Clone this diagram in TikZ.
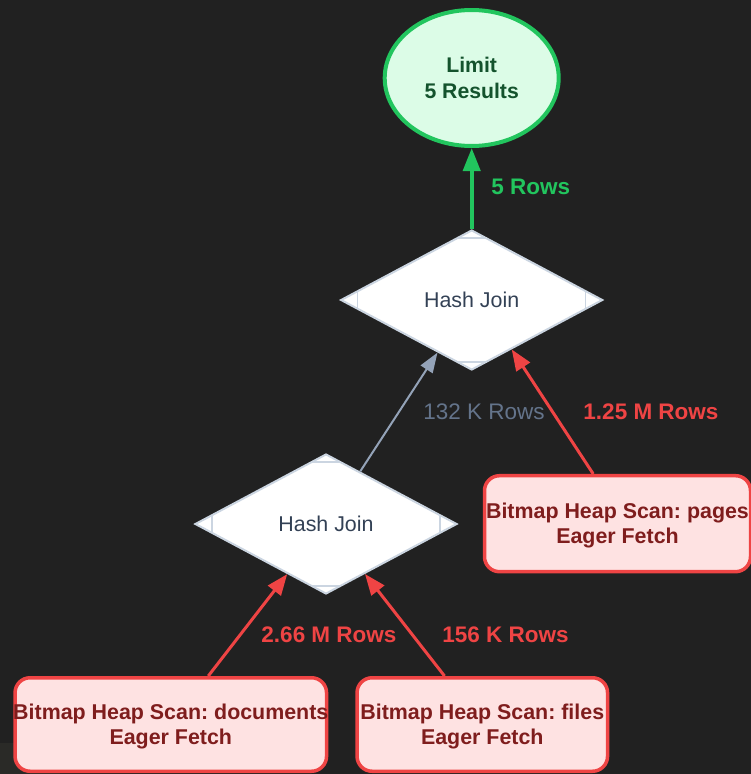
\documentclass[tikz,border=0pt]{standalone}
\usepackage{fontspec}
\setmainfont{Liberation Sans}
\usetikzlibrary{arrows.meta,shapes.geometric,calc}
\frenchspacing

\definecolor{bgdark}{HTML}{212121}
\definecolor{bgband}{HTML}{2A2A27}
\definecolor{limitgreen}{HTML}{22C55E}
\definecolor{limitfill}{HTML}{DCFCE7}
\definecolor{limittext}{HTML}{14532D}
\definecolor{joinline}{HTML}{CBD5E1}
\definecolor{jointext}{HTML}{334155}
\definecolor{joinarrow}{HTML}{94A3B8}
\definecolor{joinlabel}{HTML}{64748B}
\definecolor{scanred}{HTML}{EF4444}
\definecolor{scanfill}{HTML}{FEE2E2}
\definecolor{scantext}{HTML}{7F1D1D}

\tikzset{
  limitnode/.style={ellipse, draw=limitgreen, line width=4pt, fill=limitfill,
    text=limittext, font=\fontsize{21.2}{26.5}\selectfont\bfseries, align=center,
    minimum width=174pt, minimum height=136pt, inner sep=0pt},
  joinnode/.style={diamond, draw=joinline, line width=2pt, fill=white,
    text=jointext, font=\fontsize{21.4}{25}\selectfont, aspect=1.87,
    minimum width=262pt, minimum height=140pt, inner sep=0pt},
  joinmark/.style={draw=joinline, line width=1.5pt},
  scannode/.style={rectangle, rounded corners=15pt, draw=scanred, line width=3.5pt,
    fill=scanfill, text=scantext, font=\fontsize{21.4}{25}\selectfont\bfseries,
    align=center, inner xsep=-12pt, inner ysep=0pt, text depth=0pt},
  redflow/.style={draw=scanred, line width=3pt, -{Triangle[length=21pt,width=16pt]}},
  grayflow/.style={draw=joinarrow, line width=2pt, -{Triangle[length=20pt,width=14pt]}},
  greenflow/.style={draw=limitgreen, line width=4pt, -{Triangle[length=23pt,width=17pt]}},
  rowlabel/.style={font=\fontsize{22.5}{27}\selectfont\bfseries, inner sep=0pt},
}

% little chords near the four tips of a join diamond
\newcommand\joinmarks[1]{%
  \draw[joinmark] ($(#1.center)+(-15,-62)$) -- ++(30,0);
  \draw[joinmark] ($(#1.center)+(-15,62)$) -- ++(30,0);
  \draw[joinmark] ($(#1.center)+(-114,-9)$) -- ++(0,18);
  \draw[joinmark] ($(#1.center)+(114,-9)$) -- ++(0,18);}

\begin{document}
\begin{tikzpicture}[x=1pt,y=-1pt]
  % canvas
  \fill[bgdark] (0,0) rectangle (751,774);
  \useasboundingbox (0,0) rectangle (751,774);
  \fill[bgband] (0,743) rectangle (60,774);

  % plan nodes
  \node[limitnode] (limit) at (471.7,78) {Limit\\5 Results};
  \node[joinnode] (hj1) at (471.7,300) {Hash Join};
  \node[joinnode] (hj2) at (326,524) {Hash Join};
  \joinmarks{hj1}
  \joinmarks{hj2}
  \node[scannode, minimum width=266pt, minimum height=96pt] (pages) at (617.5,523.7)
    {Bitmap Heap Scan: pages\\Eager Fetch};
  \node[scannode, minimum width=311.5pt, minimum height=93.5pt] (docs) at (170.8,724.5)
    {Bitmap Heap Scan: documents\\Eager Fetch};
  \node[scannode, minimum width=250.5pt, minimum height=93.5pt] (files) at (482.3,724.5)
    {Bitmap Heap Scan: files\\Eager Fetch};

  % row flow
  \draw[greenflow] (hj1) -- (limit);
  \draw[grayflow] (hj2) -- (hj1);
  \draw[redflow] (pages.116) -- (hj1.-51);
  \draw[redflow] (docs) -- (hj2);
  \draw[redflow] (files) -- (hj2);

  % row counts
  \node[rowlabel, text=limitgreen] (l5) at (530.7,187) {5 Rows};
  \node[rowlabel, text=joinlabel, font=\fontsize{22.5}{27}\selectfont] (l132) at (484,411.7) {132 K Rows};
  \node[rowlabel, text=scanred] (l125) at (651,411.7) {1.25 M Rows};
  \node[rowlabel, text=scanred] (l266) at (329,635) {2.66 M Rows};
  \node[rowlabel, text=scanred] (l156) at (505.5,635) {156 K Rows};
\end{tikzpicture}
\end{document}
